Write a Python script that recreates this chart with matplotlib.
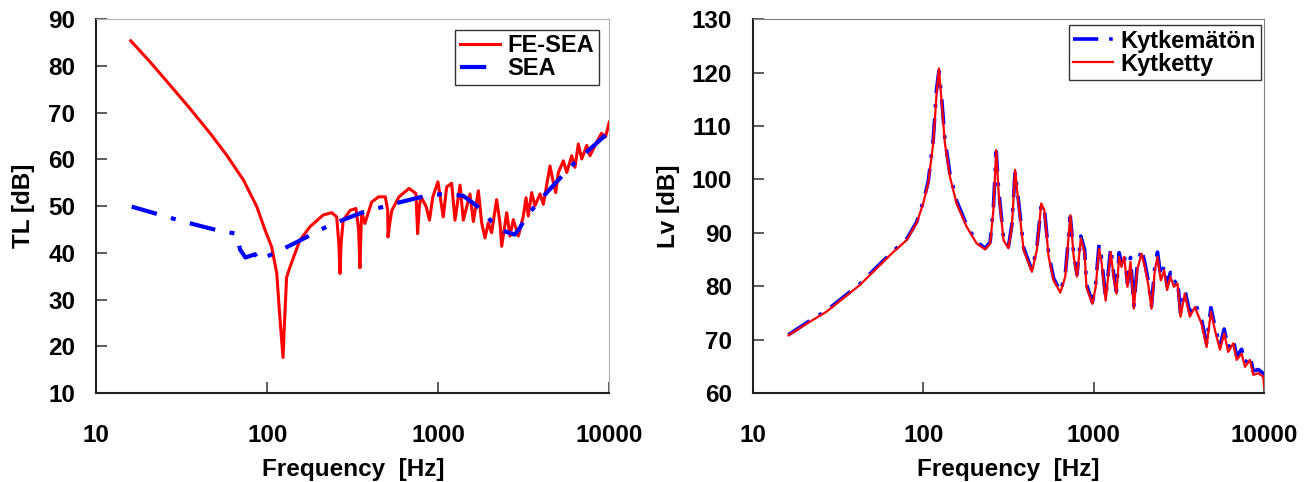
import matplotlib
matplotlib.use("Agg")
from matplotlib import pyplot as plt

plt.rcParams['font.family'] = ['Liberation Sans', 'DejaVu Sans']
plt.rcParams['font.weight'] = 'bold'

# Vasen kuva: TL, FE-SEA
f_fesea = [15.9, 20.6, 27, 35.3, 46.3, 57.9, 72.5, 86.8, 97, 106, 113.6, 118, 123.6, 126, 129.7,
           135.8, 155, 177.7, 212, 238, 254.6, 262, 266, 270, 278, 305, 330, 342, 348, 356, 372,
           408, 448, 490, 506, 508, 520, 535, 589, 675, 740, 757, 775, 792, 849, 888, 929, 995,
           1069, 1119, 1197, 1252, 1340, 1401, 1532, 1603, 1715, 1794, 1876, 1961, 2051, 2193,
           2295, 2348, 2512, 2626, 2746, 2939, 3143, 3260, 3360, 3515, 3675, 3935, 4114, 4500,
           4710, 4860, 5035, 5385, 5636, 6029, 6300, 6590, 6900, 7380, 7710, 8440, 9000, 9500,
           10000]
tl_fesea = [85.4, 80.9, 75.9, 70.9, 65.6, 60.9, 55.6, 49.9, 44.9, 41.3, 35.6, 27, 17.6, 25, 34.8,
            37, 42.7, 45.6, 48.1, 48.6, 47.7, 42, 35.6, 42, 47, 49.1, 49.5, 45, 36.8, 48.8, 46.3,
            50.9, 52, 52, 49.1, 43.4, 46.3, 49.1, 52, 53.8, 52.7, 44.1, 50, 52, 49.9, 47, 52, 55.2,
            47.7, 54.1, 54.9, 47, 54.5, 47, 52.6, 46.7, 53.3, 46.4, 43.2, 46.4, 44.3, 51.4,
            46.4, 41.4, 48.6, 43.6, 47.1, 43.6, 47.9, 51.8, 47.9, 52.9, 50.1, 52.6, 50.4, 58.6,
            55, 52.9, 57.2, 59.7, 57.2, 60.8, 58.3, 63.3, 60.1, 63, 60.8, 63.7, 65.6, 64.8,
            68]

f_sea = [16.1, 33, 52.8, 66.2, 69.3, 74.5, 84.7, 88.6, 111, 145, 228, 279, 356, 562, 888, 1117,
         1400, 1676, 2051, 2452, 2800, 2993, 3290, 4300, 6150, 9040, 10000]
tl_sea = [49.9, 46.6, 44.7, 44.1, 40.7, 39, 39.7, 38.4, 40, 42.1, 45.8, 47.1, 48.6, 50.6, 52.4,
          52.6, 52.2, 50.1, 46.7, 44.6, 43.9, 45.3, 47.9, 52.9, 59, 64.5, 65.9]

# Oikea kuva: Lv, kytketty / kytkemätön
f_lv = [16.2, 21.5, 27, 33.8, 42.4, 53.1, 66.7, 79.8, 91.4, 100, 107, 114.5, 119.8, 123.6, 128,
        134, 143.5, 157, 180, 206, 231, 247, 258, 268, 277, 296, 316, 331, 346, 362, 388, 434,
        464, 492, 513, 544, 582, 637, 681, 729, 763, 798, 840, 885, 906, 982, 1027, 1075, 1109,
        1175, 1258, 1316, 1359, 1409, 1455, 1507, 1578, 1643, 1719, 1797, 1907, 1993, 2084,
        2182, 2282, 2366, 2474, 2588, 2694, 2818, 2950, 3099, 3228, 3421, 3661, 3919, 4287,
        4590, 4865, 5137, 5499, 5823, 6146, 6581, 6890, 7370, 7710, 8250, 8620, 9220, 9860,
        10000]
lv_kytketty = [70.8, 73.3, 75.2, 77.7, 80.2, 83.3, 86.4, 88.6, 91.8, 95.5, 99.3, 106.8, 116.1,
               120.8, 114.9, 106.8, 100.5, 95.5, 91.1, 88, 86.9, 88, 94.3, 105.5, 97.4, 88.6,
               87.1, 91.1, 101.8, 95.5, 86.8, 82.7, 86.8, 95.5, 94.3, 85.5, 81.1, 78.8, 81.8,
               93.3, 85.5, 81.8, 89.0, 86.1, 79.9, 76.7, 79.9, 87.0, 84.8,
               77.3, 86.4, 81.1, 78.6, 85.5, 83.6, 85.5, 79.9, 84.6, 75.8, 83.0, 86.1, 83.6, 80.5,
               75.8, 83.0, 85.5, 81.1, 83.0, 79.3, 81.8, 79.9, 80.5, 74.3, 78.6, 74.3, 76.1, 73.0,
               68.6, 75.2, 71.8, 68.1, 71.2, 67.7, 69.3, 66.2, 67.4, 64.9, 66.2, 63.4, 63.7, 63.1,
               61.0]
lv_kytkematon = [70.9, 73.5, 75.4, 77.9, 80.4, 83.5, 86.6, 88.8, 92, 95.8, 99.6, 107.5, 117,
                 120.3, 115.6, 107.5, 101, 96, 91.4, 88.3, 87.1, 88.3, 94.8, 105.2, 98, 89,
                 87.4, 91.5, 101.5, 96, 87.2, 83, 87.2, 95.3, 94.6, 86, 81.5, 79, 82.2, 93,
                 86, 82.2, 89.4, 86.8, 80.4, 77.0, 80.5, 87.8, 85.5,
                 77.8, 87.2, 81.8, 79.0, 86.3, 84.3, 86.2, 80.5, 85.4, 76.3, 83.7, 87.0, 84.4, 81.2,
                 76.3, 83.8, 86.4, 81.8, 83.8, 80.0, 82.6, 80.6, 81.3, 75.0, 79.3, 75.0, 76.9, 73.8,
                 69.3, 76.0, 72.5, 68.8, 72.0, 68.4, 70.1, 66.9, 68.2, 65.6, 67.0, 64.1, 64.4, 63.7,
                 61.3]

xticks = [10, 100, 1000, 10000]
xticklabels = ['10', '100', '1000', '10000']
fs = 17.5

fig = plt.figure(figsize=(13.12, 4.82), dpi=100)
ax1 = fig.add_axes([0.0734, 0.1846, 0.391, 0.7754])
ax2 = fig.add_axes([0.5737, 0.1846, 0.3899, 0.7754])

ax1.plot(f_fesea, tl_fesea, color='#ff0000', lw=2.2, label='FE-SEA')
ax1.plot(f_sea, tl_sea, color='#0000ff', lw=3, dashes=(6.3, 3.5, 1.2, 3.5),
         dash_capstyle='butt', label='SEA')
ax1.set_ylim(10, 90)
ax1.set_yticks(range(10, 91, 10))
ax1.set_ylabel('TL [dB]', fontsize=fs, fontweight='bold', labelpad=10)

ax2.plot(f_lv, lv_kytkematon, color='#0000ff', lw=2.6, dashes=(7, 3, 1, 3),
         dash_capstyle='butt', label='Kytkemätön')
ax2.plot(f_lv, lv_kytketty, color='#ff0000', lw=1.6, label='Kytketty')
ax2.set_ylim(60, 130)
ax2.set_yticks(range(60, 131, 10))
ax2.set_ylabel('Lv [dB]', fontsize=fs, fontweight='bold', labelpad=8)

legend_pos = {ax1: (0.979, 0.972), ax2: (0.993, 0.985)}

for ax, topcol in ((ax1, '#b0b0b0'), (ax2, '#808080')):
    ax.set_xscale('log')
    ax.set_xlim(10, 10000)
    ax.set_xticks(xticks)
    ax.set_xticklabels(xticklabels)
    ax.minorticks_off()
    ax.tick_params(axis='x', which='major', direction='in', length=8, width=1.2,
                   color='#404040', pad=22, labelsize=fs)
    ax.tick_params(axis='y', which='major', direction='in', length=8, width=1.2,
                   color='#404040', pad=15, labelsize=fs)
    for lab in ax.get_xticklabels() + ax.get_yticklabels():
        lab.set_fontweight('bold')
    ax.spines['left'].set_color('#202020')
    ax.spines['bottom'].set_color('#202020')
    ax.spines['left'].set_linewidth(1.5)
    ax.spines['bottom'].set_linewidth(1.5)
    ax.spines['top'].set_color(topcol)
    ax.spines['right'].set_color(topcol)
    ax.set_xlabel('Frequency  [Hz]', fontsize=fs, fontweight='bold', labelpad=8)
    leg = ax.legend(loc='upper right', bbox_to_anchor=legend_pos[ax], frameon=True,
                    fancybox=False, borderpad=0.2, labelspacing=0.0, handlelength=1.7,
                    handletextpad=0.3, borderaxespad=0.0,
                    prop={'weight': 'bold', 'size': 17})
    leg.get_frame().set_edgecolor('black')
    leg.get_frame().set_linewidth(1.0)

fig.savefig('out.png', dpi=100)
